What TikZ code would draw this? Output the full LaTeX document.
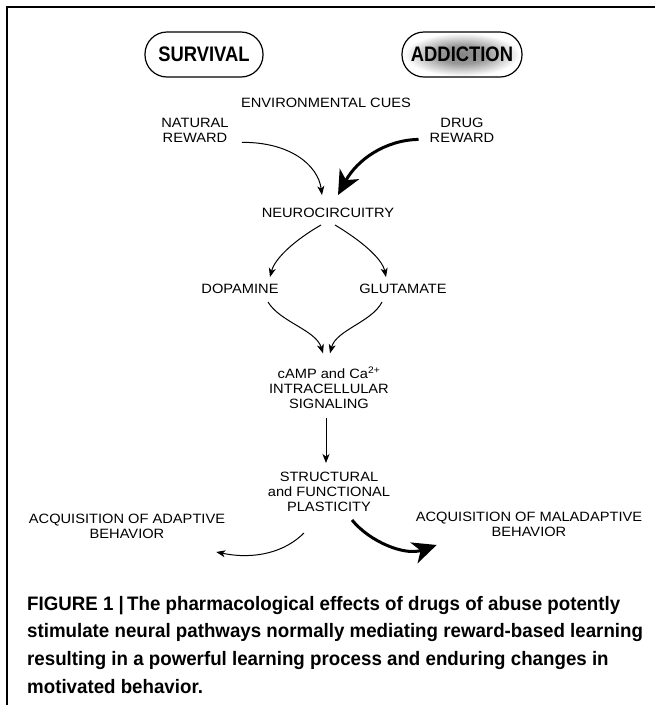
\documentclass[tikz,border=0pt]{standalone}
\usepackage{fontspec}
\usetikzlibrary{arrows.meta,calc}
\newfontfamily\dfont[FakeStretch=1.085]{Liberation Sans}
\newfontfamily\pfont[FakeStretch=0.875]{Liberation Sans}
\newfontfamily\cfont[FakeStretch=0.96]{Liberation Sans}
\pgfdeclareradialshading{addglow}{\pgfpoint{0bp}{0bp}}{color(0bp)=(black!48); color(10bp)=(black!40); color(24bp)=(white); color(50bp)=(white)}
\tikzset{
  pill/.style={draw, line width=1.2pt, rounded corners=22pt, minimum width=118pt, minimum height=45pt, inner sep=0pt, font=\pfont\bfseries\fontsize{21}{24}\selectfont},
  lbl/.style={inner sep=0pt, align=center, font=\dfont\fontsize{13.5}{15}\selectfont},
  caption/.style={inner sep=0pt, anchor=base west, font=\cfont\bfseries\fontsize{19.5}{27.7}\selectfont},
  thinarrow/.style={line width=1pt, -{Stealth[length=9pt,width=7pt,inset=2.5pt]}},
  thickarrow/.style={line width=3pt, -{Stealth[length=24pt,width=22pt,inset=7pt]}},
}
\begin{document}
\begin{tikzpicture}[x=1pt,y=-1pt]
\useasboundingbox (0,0) rectangle (655,705);
% frame
\draw[line width=2pt] (7.3,705) -- (7.3,7.3) -- (655,7.3);
% pills
\node[pill] (surv) at (204,54.5) {SURVIVAL};
\node[pill, minimum width=120pt, shade, shading=addglow] (addict) at (462,54.5) {ADDICTION};
% labels
\node[lbl] (env) at (326,103) {ENVIRONMENTAL CUES};
\node[lbl] (natural) at (195,130) {NATURAL\\REWARD};
\node[lbl] (drug) at (462,130) {DRUG\\REWARD};
\node[lbl] (neuro) at (328,213) {NEUROCIRCUITRY};
\node[lbl] (dopa) at (240,289) {DOPAMINE};
\node[lbl] (glut) at (403,289) {GLUTAMATE};
\node[lbl] (camp) at (329,387.5) {cAMP and Ca\textsuperscript{2+}\\INTRACELLULAR\\SIGNALING};
\node[lbl] (struct) at (329,492) {STRUCTURAL\\and FUNCTIONAL\\PLASTICITY};
\node[lbl] (adapt) at (127,526.5) {ACQUISITION OF ADAPTIVE\\BEHAVIOR};
\node[lbl] (maladapt) at (529,524.5) {ACQUISITION OF MALADAPTIVE\\BEHAVIOR};
% arrows
\draw[thinarrow] ($(natural.south east)+(13,0)$) .. controls (290,142) and (318,165) .. ($(neuro.north)+(-6,-13)$);
\draw[thickarrow] ($(drug.south west)+(-11,-3)$) .. controls (385,140) and (357,160) .. ($(neuro.north)+(10,-13)$);
\draw[thinarrow] ($(neuro.south)+(-7,7)$) .. controls (295,240) and (275,258) .. ($(dopa.north)+(30,-7)$);
\draw[thinarrow] ($(neuro.south)+(7,7)$) .. controls (360,240) and (382,258) .. ($(glut.north)+(-17,-7)$);
\draw[thinarrow] ($(dopa.south)+(28,8)$) .. controls (280,322) and (316,330) .. ($(camp.north)+(-6,-13)$);
\draw[thinarrow] ($(glut.south)+(-21,8)$) .. controls (372,322) and (336,330) .. ($(camp.north)+(1,-13)$);
\draw[thinarrow] ($(camp.south)+(-3,9)$) -- ($(struct.north)+(-3,-9)$);
\draw[thinarrow] ($(struct.south)+(-25,21)$) .. controls (285,552) and (255,560) .. ($(adapt.south east)+(-9,13)$);
\draw[thickarrow] ($(struct.south)+(23,8)$) .. controls (370,542) and (405,556) .. ($(maladapt.south west)+(21,8)$);
% caption
\node[caption] (cap1) at (27,610) {FIGURE 1 |\,The pharmacological effects of drugs of abuse potently};
\node[caption] (cap2) at (27,637.7) {stimulate neural pathways normally mediating reward-based learning};
\node[caption] (cap3) at (27,665.4) {resulting in a powerful learning process and enduring changes in};
\node[caption] (cap4) at (27,693.1) {motivated behavior.};
\end{tikzpicture}
\end{document}
